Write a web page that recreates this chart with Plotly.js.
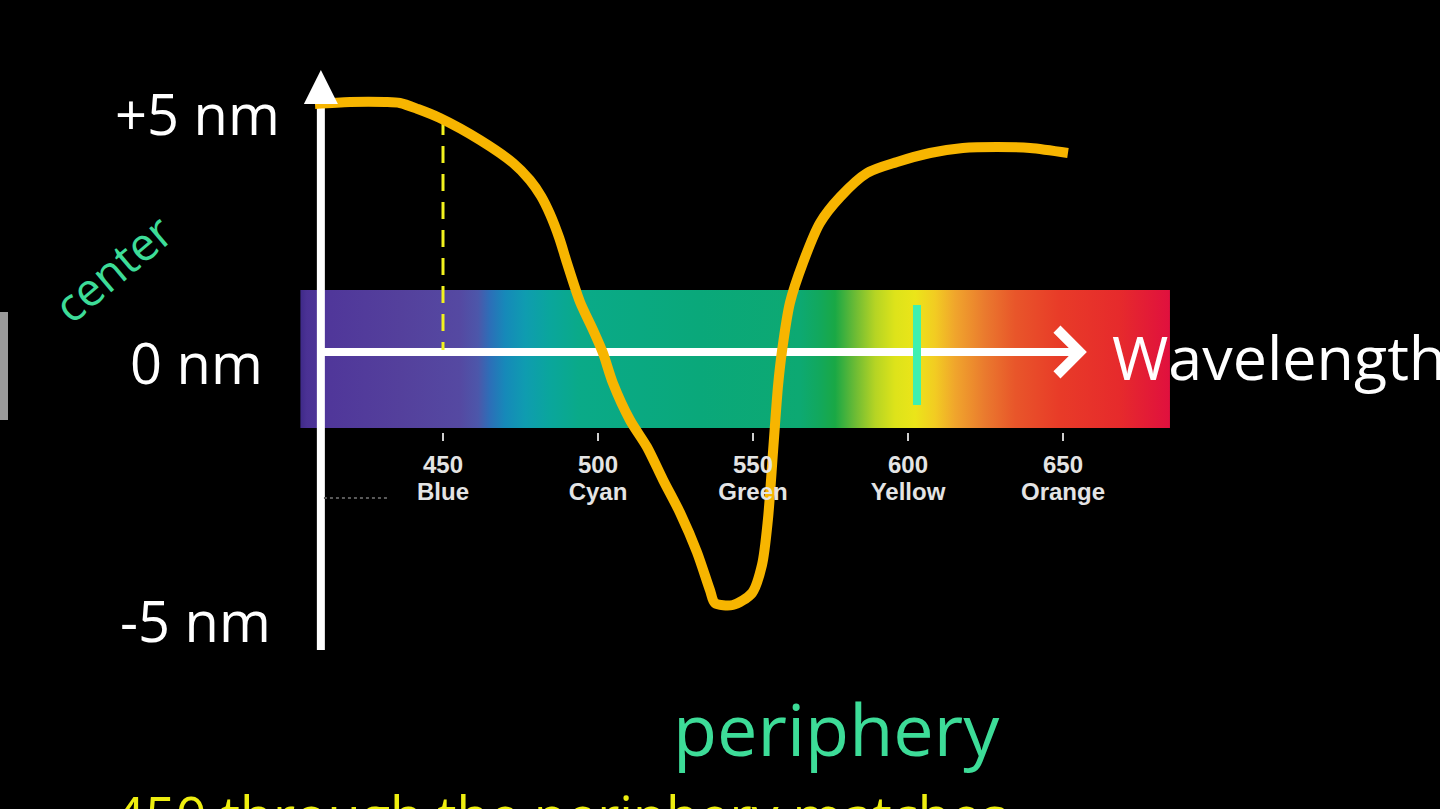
<!DOCTYPE html>
<html>
<head>
<meta charset="utf-8">
<script src="https://cdn.plot.ly/plotly-3.0.1.min.js"></script>
<style>
  html, body { margin: 0; padding: 0; background: #000; overflow: hidden; }
  #chart { width: 1440px; height: 809px; }
</style>
</head>
<body>
<div id="chart"></div>
<script>
// ---- data ----
// curve: wavelength (nm) vs. shift (nm)
const wavelength = [408.7, 420.0, 431.3, 436.1, 441.9, 449.0, 461.9, 472.6, 478.0, 481.6, 484.5, 487.5, 490.0,
                    494.2, 498.4, 501.6, 504.8, 510.3, 515.8, 521.0, 526.5, 531.9, 536.1,
                    537.7, 543.5, 549.7, 552.9, 554.8, 556.5, 558.1, 559.4, 561.9, 566.1,
                    571.6, 578.1, 586.8, 596.5, 607.1, 617.7, 628.7, 639.4, 651.6];
const shift = [5.02, 5.06, 5.06, 5.04, 4.92, 4.74, 4.30, 3.84, 3.50, 3.18, 2.82, 2.34, 1.84,
               1.06, 0.50, 0.04, -0.56, -1.30, -1.84, -2.50, -3.16, -3.94, -4.70,
               -4.96, -5.00, -4.76, -4.20, -3.30, -1.90, -0.60, 0.10, 1.04, 1.84,
               2.64, 3.16, 3.64, 3.86, 4.04, 4.14, 4.16, 4.14, 4.04];

// x tick labels
const tickWavelengths = [450, 500, 550, 600, 650];
const tickNumbers = ["450", "500", "550", "600", "650"];
const tickNames = ["Blue", "Cyan", "Green", "Yellow", "Orange"];

// y labels
const yLabelValues = [5, 0, -5];
const yLabelTexts = ["+5 nm", "0 nm", "-5 nm"];

// spectrum band
const spectrumStart = 404.0, spectrumEnd = 684.5;
const spectrumTop = 1.3, spectrumBottom = -1.46;
const spectrumStops = [403.9, 406.0, 413.5, 436.1, 455.5, 461.3, 465.2, 470.0, 476.5, 484.5, 494.2,
                       532.9, 565.2, 571.6, 576.5, 582.9, 589.4, 595.8, 602.3, 608.7, 615.2,
                       624.8, 634.5, 649.0, 668.4, 684.5];
const spectrumColors = ["#3f2a88", "#4a3194", "#50379a", "#54409c", "#5549a2", "#4c57aa", "#2c6fb8", "#1689b9",
                        "#0f9cb0", "#0aa69c", "#0aaa88", "#0aa87a", "#0da972", "#12a85c", "#1aa845",
                        "#6bbb35", "#b5d424", "#dde31a", "#ebe519", "#f2cc22", "#f0a52c", "#ea7a2e",
                        "#e8562a", "#e83b28", "#e62a2c", "#e0103e"];

// markers on the figure
const markedWavelength = 450;      // dashed yellow
const markedShift = 4.74;
const greenMarkWavelength = 602.9;  // green stroke

// axis arrows (in data units)
const axisX0 = 410.6, axisXEnd = 657.7;
const axisY0 = -5.9, axisYEnd = 5.7;

// ---- layout scale (pixels) ----
const W = 1440, H = 809;
const pxPerNm = 3.1, x450px = 443;
const y0px = 355, pxPerShift = 50;
const xRange = [450 - x450px / pxPerNm, 450 + (W - x450px) / pxPerNm];
const yRange = [-(H - y0px) / pxPerShift, y0px / pxPerShift];
const py = p => 1 - p / H;   // pixel row -> paper y
const px = p => p / W;       // pixel col -> paper x

const span = spectrumEnd - spectrumStart;
const colorscale = spectrumStops.map((s, i) => [Math.min(1, Math.max(0, (s - spectrumStart) / span)), spectrumColors[i]]);
colorscale[0][0] = 0; colorscale[colorscale.length - 1][0] = 1;

const traces = [
  { // spectrum band
    type: 'scatter', mode: 'lines',
    x: [spectrumStart, spectrumEnd, spectrumEnd, spectrumStart, spectrumStart],
    y: [spectrumTop, spectrumTop, spectrumBottom, spectrumBottom, spectrumTop],
    fill: 'toself', line: { width: 0, color: 'rgba(0,0,0,0)' },
    fillgradient: { type: 'horizontal', colorscale: colorscale, start: spectrumStart, stop: spectrumEnd },
    hoverinfo: 'skip'
  },
  { // horizontal axis line
    type: 'scatter', mode: 'lines', x: [axisX0, axisXEnd - 2], y: [0.06, 0.06],
    line: { color: '#ffffff', width: 8 }, hoverinfo: 'skip'
  },
  { // vertical axis line
    type: 'scatter', mode: 'lines', x: [axisX0, axisX0], y: [axisY0, axisYEnd - 0.3],
    line: { color: '#ffffff', width: 8 }, hoverinfo: 'skip'
  },
  { // dashed marker at 450
    type: 'scatter', mode: 'lines', x: [markedWavelength, markedWavelength], y: [markedShift, 0.1],
    line: { color: '#f2f21e', width: 3, dash: '17px,11px' }, hoverinfo: 'skip'
  },
  { // green stroke
    type: 'scatter', mode: 'lines', x: [greenMarkWavelength, greenMarkWavelength], y: [1.0, -1.0],
    line: { color: '#3ff0b0', width: 8 }, hoverinfo: 'skip'
  },
  { // small faint dashes
    type: 'scatter', mode: 'lines', x: [axisX0 + 1, axisX0 + 22], y: [-2.86, -2.86],
    line: { color: '#5a5a5a', width: 2, dash: 'dot' }, hoverinfo: 'skip'
  },
  { // the curve
    type: 'scatter', mode: 'lines', x: wavelength, y: shift,
    line: { color: '#f7b500', width: 10, shape: 'spline', smoothing: 0.8 }, hoverinfo: 'skip'
  }
];

const labelFont = { family: 'Open Sans, sans-serif', size: 56, color: '#ffffff' };
const yLabelPx = [113, 362, 620];
const yLabelRight = [282, 265, 273];
const annotations = yLabelTexts.map((t, i) => ({
  text: t, xref: 'paper', yref: 'paper', x: px(yLabelRight[i]), y: py(yLabelPx[i]),
  xanchor: 'right', yanchor: 'middle', showarrow: false, font: labelFont
}));

annotations.push(
  { text: 'Wavelength', xref: 'paper', yref: 'paper', x: px(1110), y: py(356), xanchor: 'left', yanchor: 'middle',
    showarrow: false, font: { family: 'Open Sans, sans-serif', size: 61, color: '#ffffff' } },
  { // horizontal arrowhead
    text: '', x: axisXEnd, y: 0.06, xref: 'x', yref: 'y', ax: -30, ay: 0, showarrow: true,
    arrowhead: 4, arrowsize: 1.1, arrowwidth: 8, arrowcolor: '#ffffff' },
  { // vertical arrowhead
    text: '', x: axisX0, y: axisYEnd, xref: 'x', yref: 'y', ax: 0, ay: 30, showarrow: true,
    arrowhead: 2, arrowsize: 0.85, arrowwidth: 8, arrowcolor: '#ffffff' },
  { text: 'center', xref: 'paper', yref: 'paper', x: px(112), y: py(268), xanchor: 'center', yanchor: 'middle',
    textangle: -40, showarrow: false, font: { family: 'Open Sans, sans-serif', size: 46, color: '#3ddc98' } },
  { text: 'periphery', xref: 'paper', yref: 'paper', x: px(836), y: py(728), xanchor: 'center', yanchor: 'middle',
    showarrow: false, font: { family: 'Open Sans, sans-serif', size: 72, color: '#3ddc98' } },
  { text: '450 through the periphery matches', xref: 'paper', yref: 'paper', x: px(112), y: py(815),
    xanchor: 'left', yanchor: 'middle', showarrow: false,
    font: { family: 'Open Sans, sans-serif', size: 54, color: '#eeee10' } }
);

const tickFont = { family: 'Liberation Sans, Arial, sans-serif', size: 24, weight: 'bold', color: '#e4e4e4' };
const layout = {
  width: W, height: H,
  margin: { l: 0, r: 0, t: 0, b: 0, pad: 0 },
  paper_bgcolor: '#000000', plot_bgcolor: '#000000',
  showlegend: false,
  xaxis: {
    range: xRange, domain: [0, 1], anchor: 'free', position: py(432),
    showgrid: false, zeroline: false, showline: false,
    tickmode: 'array', tickvals: tickWavelengths, ticktext: tickNumbers,
    ticks: 'outside', ticklen: 8, tickwidth: 2, tickcolor: '#cfcfcf',
    ticklabelstandoff: 3, tickfont: tickFont, fixedrange: true
  },
  xaxis2: {
    range: xRange, overlaying: 'x', anchor: 'free', position: py(475), side: 'bottom',
    showgrid: false, zeroline: false, showline: false,
    tickmode: 'array', tickvals: tickWavelengths, ticktext: tickNames,
    ticks: '', tickfont: tickFont, fixedrange: true
  },
  yaxis: {
    range: yRange, domain: [0, 1], showgrid: false, zeroline: false, showline: false,
    showticklabels: false, ticks: '', fixedrange: true
  },
  shapes: [
    { type: 'rect', xref: 'paper', yref: 'paper', x0: 0, x1: px(8), y0: py(420), y1: py(312),
      fillcolor: '#9a9a9a', line: { width: 0 } }
  ],
  annotations: annotations
};

// invisible trace so that xaxis2 is drawn
traces.push({ type: 'scatter', mode: 'lines', x: [xRange[0]], y: [yRange[0]], xaxis: 'x2', yaxis: 'y',
  line: { width: 0 }, hoverinfo: 'skip', showlegend: false });

Plotly.newPlot('chart', traces, layout, { displayModeBar: false, staticPlot: true });
</script>
</body>
</html>
